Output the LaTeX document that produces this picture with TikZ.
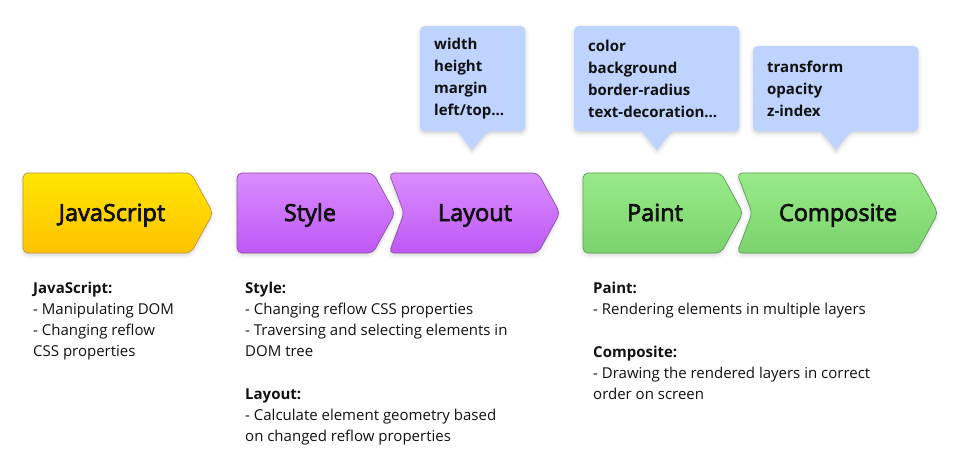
\documentclass[tikz,border=0pt]{standalone}
\usepackage{fontspec}
\setmainfont{Open Sans}
\newfontfamily\stagefont[FakeBold=3]{Open Sans}
\usetikzlibrary{positioning, calc, backgrounds, shadows.blur}

\definecolor{jstop}{HTML}{FFE600}
\definecolor{jsbot}{HTML}{FFC200}
\definecolor{jsline}{HTML}{B8954A}
\definecolor{csstop}{HTML}{DA8DFF}
\definecolor{cssbot}{HTML}{BE58F5}
\definecolor{cssline}{HTML}{8A539F}
\definecolor{painttop}{HTML}{98EA89}
\definecolor{paintbot}{HTML}{7BD36C}
\definecolor{paintline}{HTML}{5E9C55}
\definecolor{propblue}{HTML}{BED3FE}
\definecolor{ink}{HTML}{111111}

\begin{document}
\begin{tikzpicture}[x=1pt, y=-1pt,
    soft/.style ={blur shadow={shadow xshift=0pt, shadow yshift=-2pt,
                  shadow opacity=18, shadow blur radius=4pt}},
    jsbox/.style ={soft, draw=jsline, line width=0.7pt, rounded corners=5pt,
                  top color=jstop, bottom color=jsbot},
    cssbox/.style={soft, draw=cssline, line width=0.7pt, rounded corners=5pt,
                  top color=csstop, bottom color=cssbot},
    pntbox/.style={soft, draw=paintline, line width=0.7pt, rounded corners=5pt,
                  top color=painttop, bottom color=paintbot},
    stage/.style ={anchor=base, inner sep=0pt, text=ink,
                  font=\stagefont\fontsize{23.5}{26}\selectfont},
    note/.style  ={anchor=north west, align=left, inner sep=0pt, text=ink,
                  font=\fontsize{15}{21}\selectfont},
    propbox/.style={anchor=north west, align=left, inner xsep=14pt, inner ysep=0pt,
                  text=ink, font=\bfseries\fontsize{15}{22}\selectfont},
    propfill/.style={soft, fill=propblue},
]
\useasboundingbox (0,0) rectangle (958,471);

% pipeline stages
\path[jsbox]  (23,173) -- (191,173) -- (213,213) -- (191,253) -- (23,253) -- cycle;
\path[cssbox] (237,173) -- (373,173) -- (395,213) -- (373,253) -- (237,253) -- cycle;
\path[cssbox] (389,173) -- (538,173) -- (560,213) -- (538,253) -- (389,253) -- (404,213) -- cycle;
\path[pntbox] (583,173) -- (721,173) -- (743,213) -- (721,253) -- (583,253) -- cycle;
\path[pntbox] (737,173) -- (916,173) -- (938,213) -- (916,253) -- (737,253) -- (752,213) -- cycle;

\node[stage] (js)     at (112,221) {JavaScript};
\node[stage] (style)  at (310,221) {Style};
\node[stage] (layout) at (475,221) {Layout};
\node[stage] (paint)  at (655,221) {Paint};
\node[stage] (comp)   at (838,221) {Composite};

% property bubbles
\node[propbox, text width=77pt, minimum height=105pt] (geo) at (420,26)
  {width\\height\\margin\\left/top...};
\node[propbox, text width=137pt, minimum height=105pt] (look) at (574,26)
  {color\\background\\border-radius\\text-decoration...};
\node[propbox, text width=137pt, minimum height=85pt] (layer) at (753,46)
  {transform\\opacity\\z-index};
\begin{scope}[on background layer]
\foreach \b/\t in {geo/472, look/657, layer/836} {
  \path[propfill, rounded corners=5pt]
    (\b.north west) -- (\b.north east) -- (\b.south east)
    -- ([xshift=15pt]\b.south) [sharp corners] -- (\t,150)
    -- ([xshift=-15pt]\b.south) [rounded corners=5pt] -- (\b.south west) -- cycle;
}
\end{scope}

% notes under the stages
\node[note] (jsnote) at (33,282)
  {\textbf{JavaScript:}\\- Manipulating DOM\\- Changing reflow\\CSS properties};
\node[note] (cssnote) at (245,282)
  {\textbf{Style:}\\- Changing reflow CSS properties\\- Traversing and selecting elements in\\DOM tree\\[22pt]
   \textbf{Layout:}\\- Calculate element geometry based\\on changed reflow properties};
\node[note] (pntnote) at (593,282)
  {\textbf{Paint:}\\- Rendering elements in multiple layers\\[22pt]
   \textbf{Composite:}\\- Drawing the rendered layers in correct\\order on screen};
\end{tikzpicture}
\end{document}
